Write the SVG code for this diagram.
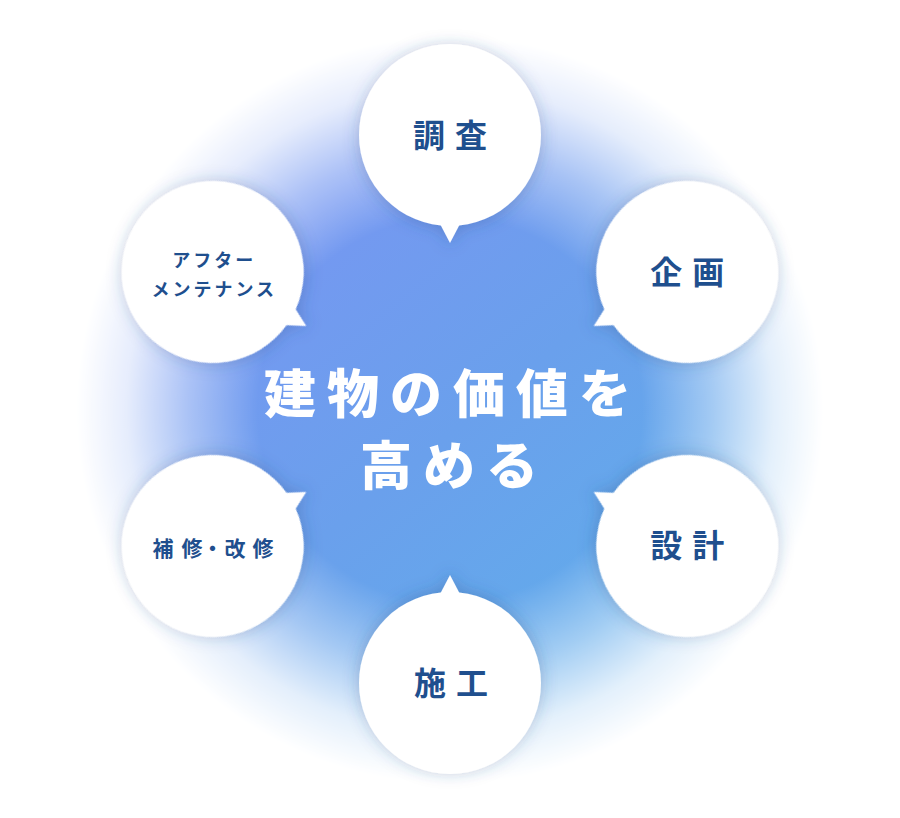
<svg xmlns="http://www.w3.org/2000/svg" width="900" height="818" viewBox="0 0 900 818">
  <defs>
    <linearGradient id="blueGrad" x1="300" y1="230" x2="620" y2="620" gradientUnits="userSpaceOnUse">
      <stop offset="0" stop-color="#7598f1"/>
      <stop offset="0.5" stop-color="#6aa0ec"/>
      <stop offset="1" stop-color="#62abeb"/>
    </linearGradient>
    <radialGradient id="fadeGrad" cx="450" cy="410" r="385" gradientUnits="userSpaceOnUse">
      <stop offset="0" stop-color="#fff" stop-opacity="1"/>
      <stop offset="0.5" stop-color="#fff" stop-opacity="1"/>
      <stop offset="0.68" stop-color="#fff" stop-opacity="0.6"/>
      <stop offset="0.84" stop-color="#fff" stop-opacity="0.18"/>
      <stop offset="0.97" stop-color="#fff" stop-opacity="0"/>
    </radialGradient>
    <mask id="fadeMask" maskUnits="userSpaceOnUse" x="0" y="0" width="900" height="818">
      <rect x="0" y="0" width="900" height="818" fill="url(#fadeGrad)"/>
    </mask>
    <filter id="shadow" x="-30%" y="-30%" width="160%" height="160%">
      <feDropShadow dx="0" dy="2" stdDeviation="8" flood-color="#2d4f86" flood-opacity="0.3"/>
    </filter>
    <g id="bubble">
      <circle cx="0" cy="0" r="91"/>
      <polygon points="-12.5,84 0,108 12.5,84"/>
    </g>
  </defs>
  <style>
    .bubble { fill: #ffffff; filter: url(#shadow); }
    .label { font-family: "Noto Sans CJK JP", "Noto Sans", sans-serif; font-weight: 700; fill: #1f4f8e; text-anchor: middle; }
    .big { font-size: 32px; letter-spacing: 10px; }
    .mid { font-size: 21px; }
    .small { font-size: 18px; letter-spacing: 3px; }
    .center { font-family: "Noto Sans CJK JP", "Noto Sans", sans-serif; font-weight: 900; fill: #ffffff; text-anchor: middle; font-size: 52px; letter-spacing: 11px; }
  </style>

  <rect x="0" y="0" width="900" height="818" fill="#ffffff"/>
  <rect id="background-glow" x="0" y="0" width="900" height="818" fill="url(#blueGrad)" mask="url(#fadeMask)"/>

  <g id="connectors"></g>

  <g id="node-chousa" transform="translate(450,135)">
    <use href="#bubble" class="bubble"/>
    <text class="label big" x="5" y="12">調査</text>
  </g>

  <g id="node-kikaku" transform="translate(687.3,272)">
    <g transform="rotate(60)"><use href="#bubble" class="bubble"/></g>
    <text class="label big" x="5" y="12">企画</text>
  </g>

  <g id="node-sekkei" transform="translate(687.3,546)">
    <g transform="rotate(120)"><use href="#bubble" class="bubble"/></g>
    <text class="label big" x="5" y="11">設計</text>
  </g>

  <g id="node-sekou" transform="translate(450,683)">
    <g transform="rotate(180)"><use href="#bubble" class="bubble"/></g>
    <text class="label big" x="6" y="12">施工</text>
  </g>

  <g id="node-hoshu" transform="translate(212.7,546)">
    <g transform="rotate(-120)"><use href="#bubble" class="bubble"/></g>
    <text class="label mid" y="10"><tspan x="-49.7">補</tspan><tspan x="-20.7">修</tspan><tspan x="-0.2">・</tspan><tspan x="22.3">改</tspan><tspan x="50.3">修</tspan></text>
  </g>

  <g id="node-after" transform="translate(212.7,272)">
    <g transform="rotate(-60)"><use href="#bubble" class="bubble"/></g>
    <text class="label small" x="1.5" y="-5">アフター</text>
    <text class="label small" x="1.5" y="24">メンテナンス</text>
  </g>

  <g id="center-title">
    <text class="center" x="453" y="413">建物の価値を</text>
    <text class="center" x="454.5" y="485">高める</text>
  </g>
</svg>
